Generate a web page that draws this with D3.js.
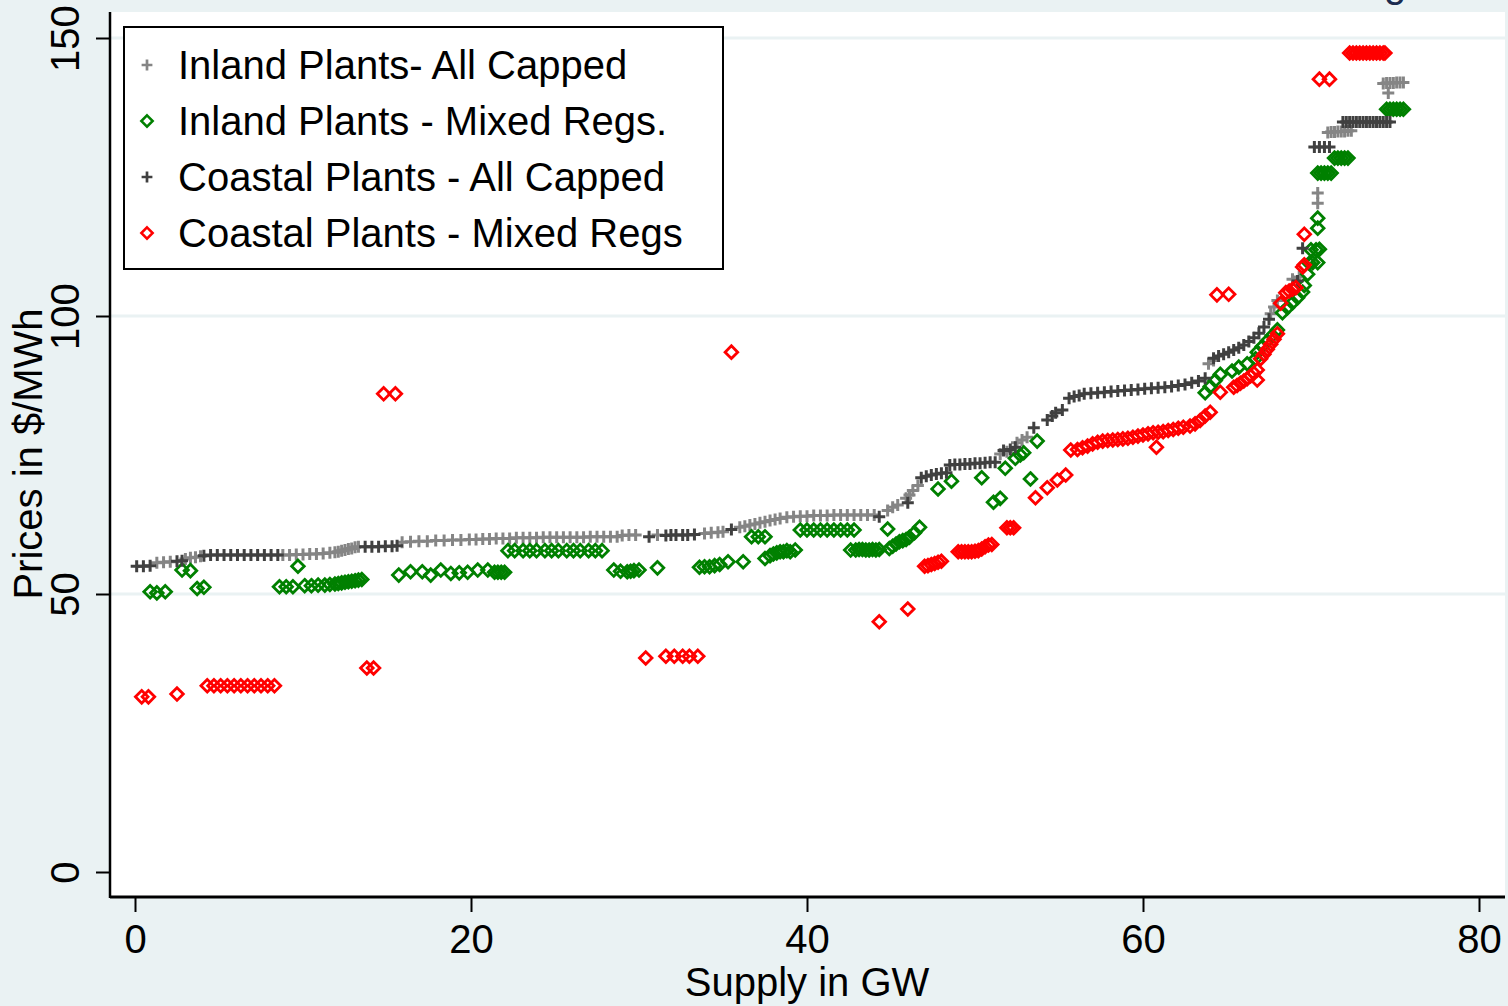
<!DOCTYPE html>
<html>
  <head>
    <meta http-equiv="Content-Type" content="text/html; charset=UTF-8">
    <script type="text/javascript" src="https://cdn.jsdelivr.net/npm/d3@7"></script>
    <style>
      body { margin: 0; background: #eaf2f3; }
      #chart { width: 1508px; height: 1006px; }
      text { font-family: "Liberation Sans", Arial, Helvetica, sans-serif; }
    </style>
  </head>
  <body>
    <div id="chart"></div>
    <script>
// ---- data (GW, $/MWh) ----
var xTicks = [0, 20, 40, 60, 80];
var yTicks = [0, 50, 100, 150];
var seriesNames = ["Inland Plants- All Capped", "Inland Plants - Mixed Regs.",
                   "Coastal Plants - All Capped", "Coastal Plants - Mixed Regs"];

var inlandCapped = [
  [1.3,55.6],[1.7,55.7],[2.1,55.8],[3.0,56.3],[3.3,56.5],[3.6,56.6],[3.9,56.8],
  [8.8,57.0],[9.2,57.0],[9.6,57.1],[10.0,57.1],[10.4,57.2],[10.8,57.2],[11.2,57.3],[11.6,57.4],
  [11.9,57.5],[12.1,57.6],[12.3,57.8],[12.5,57.9],[12.7,58.1],[12.9,58.2],[13.1,58.4],[13.3,58.5],
  [15.9,59.3],[16.4,59.4],[16.9,59.5],[17.4,59.5],[17.9,59.6],[18.4,59.6],[18.9,59.7],[19.4,59.7],
  [19.9,59.8],[20.3,59.8],[20.7,59.9],[21.1,59.9],[21.5,60.0],[21.9,60.0],[22.3,60.0],[22.7,60.1],
  [23.1,60.1],[23.5,60.1],[23.9,60.1],[24.3,60.2],[24.7,60.2],[25.1,60.2],[25.5,60.2],[25.9,60.2],
  [26.3,60.2],[26.7,60.2],[27.1,60.3],[27.5,60.3],[27.9,60.3],[28.3,60.3],[28.7,60.3],
  [29.0,60.5],[29.4,60.6],[29.8,60.6],[31.1,60.6],
  [33.9,60.9],[34.3,61.0],[34.7,61.1],[35.0,61.2],
  [36.0,62.0],[36.3,62.2],[36.6,62.4],[36.9,62.6],[37.2,62.8],[37.5,63.0],[37.8,63.2],[38.1,63.4],
  [38.4,63.6],[38.8,63.8],[39.2,63.9],[39.6,64.0],[40.0,64.0],[40.4,64.1],[40.8,64.1],[41.2,64.1],
  [41.6,64.2],[42.0,64.2],[42.4,64.2],[42.8,64.2],[43.2,64.2],[43.6,64.2],[44.0,64.2],
  [44.8,65.0],[45.1,65.6],[45.4,66.0],[45.9,67.2],[46.1,67.8],[46.3,68.6],[46.6,69.5],
  [51.5,75.2],[51.9,75.6],[52.5,77.2],[52.8,77.7],[53.1,78.2],
  [63.9,91.4],[64.2,92.0],[67.6,100.4],[67.8,101.6],[68.0,102.8],[68.9,106.6],[69.3,107.0],
  [70.4,120.3],[70.4,122.1],
  [71.0,133.0],[71.2,133.1],[71.4,133.1],[71.6,133.2],[71.8,133.2],[72.0,133.2],[72.2,133.3],[72.4,133.3],
  [74.6,140.1],[74.3,141.8],[74.5,141.9],[74.7,141.9],[74.9,141.9],[75.1,142.0],[75.3,142.0],[75.5,142.0]
];

var inlandMixed = [
  [0.9,50.4],[1.3,50.2],[1.8,50.4],[2.8,54.3],[3.3,54.2],[3.7,51.0],[4.1,51.2],
  [8.6,51.3],[9.0,51.3],[9.4,51.3],[9.7,55.0],
  [10.1,51.5],[10.5,51.5],[10.9,51.6],[11.3,51.6],[11.6,51.7],[11.9,51.8],[12.1,51.9],[12.3,52.0],
  [12.5,52.1],[12.7,52.2],[12.9,52.3],[13.1,52.4],[13.3,52.5],[13.5,52.6],
  [15.7,53.4],[16.4,54.0],[17.1,54.0],[17.6,53.4],[18.2,54.3],[18.8,53.7],[19.3,53.8],[19.8,53.9],
  [20.4,54.3],[21.0,54.3],[21.4,53.9],[21.6,53.9],[21.8,53.9],[22.0,53.9],
  [22.2,57.8],[22.6,57.8],[23.1,57.8],[23.5,57.8],[23.9,57.8],[24.4,57.8],[24.8,57.8],[25.2,57.8],
  [25.7,57.8],[26.1,57.8],[26.5,57.8],[27.0,57.8],[27.4,57.8],[27.8,57.8],
  [28.5,54.3],[28.9,54.1],[29.3,54.0],[29.5,54.1],[29.7,54.2],[30.0,54.3],[31.1,54.7],
  [33.6,54.8],[33.9,54.9],[34.2,54.9],[34.5,55.1],[34.8,55.3],[35.3,55.8],[36.2,55.8],
  [36.7,60.3],[37.1,60.3],[37.5,60.3],
  [37.5,56.4],[37.8,56.9],[38.0,57.2],[38.2,57.4],[38.4,57.6],[38.6,57.6],[38.8,57.8],[39.0,57.6],[39.3,57.9],
  [39.6,61.5],[40.0,61.5],[40.4,61.5],[40.8,61.5],[41.2,61.5],[41.6,61.5],[42.0,61.5],[42.4,61.5],[42.8,61.5],
  [42.6,57.9],[42.9,57.9],[43.1,58.0],[43.3,58.0],[43.5,57.9],[43.7,57.9],[43.9,58.0],[44.1,57.9],[44.3,58.0],
  [44.8,61.7],[44.9,58.2],[45.1,58.6],[45.3,59.0],[45.5,59.4],[45.7,59.6],[45.9,59.8],[46.1,60.2],[46.4,61.0],[46.7,62.0],
  [47.8,68.9],[48.6,70.3],[50.4,70.9],[51.1,66.5],[51.5,67.2],[51.8,72.6],[52.4,74.4],[52.7,75.0],[52.9,75.4],
  [53.3,70.7],[53.7,77.5],
  [63.7,86.2],[64.0,87.3],[64.3,88.4],[64.6,89.5],[65.3,90.1],[65.7,90.8],[66.2,91.4],[66.7,92.3],
  [66.8,93.5],[67.1,94.5],[67.4,95.5],[67.7,96.5],[68.0,97.5],[68.3,100.6],[68.6,101.5],[68.9,102.4],
  [69.2,103.3],[69.5,104.3],[69.6,105.5],[69.8,107.5],[69.9,109.5],[70.1,109.6],[70.4,109.6],
  [70.0,111.9],[70.3,111.9],[70.5,112.0],[70.4,115.8],[70.4,117.6],
  [70.4,125.7],[70.6,125.7],[70.8,125.7],[71.0,125.7],[71.2,125.7],
  [71.4,128.4],[71.6,128.4],[71.8,128.4],[72.0,128.4],[72.2,128.4],
  [74.5,137.2],[74.7,137.2],[74.9,137.2],[75.1,137.2],[75.3,137.2],[75.5,137.2]
];

var coastalCapped = [
  [0.1,55.0],[0.5,55.0],[0.9,55.1],[2.5,55.9],[2.8,56.0],
  [4.1,56.9],[4.5,57.0],[4.9,57.0],[5.3,57.0],[5.7,57.0],[6.1,57.0],[6.5,57.0],[6.9,57.0],
  [7.3,57.0],[7.7,57.0],[8.1,57.0],[8.5,57.0],
  [13.7,58.5],[14.1,58.5],[14.5,58.5],[14.9,58.6],[15.3,58.6],[15.6,58.7],
  [30.6,60.3],[31.6,60.5],[31.9,60.6],[32.2,60.6],[32.6,60.6],[32.9,60.6],[33.3,60.7],
  [35.5,61.6],[44.3,63.9],[46.0,66.4],
  [46.8,70.9],[47.1,71.2],[47.4,71.4],[47.7,71.6],[48.0,71.7],[48.3,71.8],
  [48.5,73.2],[48.8,73.3],[49.1,73.3],[49.4,73.4],[49.7,73.4],[50.0,73.5],[50.3,73.5],[50.6,73.6],
  [50.9,73.7],[51.2,73.7],[51.7,75.8],[52.1,76.0],[52.4,76.4],
  [53.5,79.9],[54.3,81.3],[54.6,82.0],[54.8,82.6],[55.2,83.1],
  [55.6,85.2],[55.9,85.5],[56.2,85.7],[56.5,86.0],
  [56.9,86.1],[57.3,86.2],[57.7,86.3],[58.1,86.4],[58.5,86.5],[58.9,86.6],[59.3,86.7],[59.7,86.8],
  [60.1,86.9],[60.5,87.0],[60.9,87.1],[61.3,87.2],[61.7,87.3],[62.1,87.5],[62.5,87.7],[62.9,88.0],
  [63.3,88.3],[63.7,88.8],
  [64.2,92.4],[64.5,92.8],[64.8,93.1],[65.1,93.5],[65.4,93.9],[65.7,94.3],[66.0,94.8],[66.3,95.4],
  [66.6,96.1],[66.9,96.9],[67.2,98.0],[67.5,99.4],[69.2,106.3],[69.5,112.2],
  [70.2,130.4],[70.5,130.4],[70.8,130.4],[71.1,130.4],
  [71.9,134.9],[72.1,134.9],[72.3,134.9],[72.5,134.9],[72.7,134.9],[72.9,134.9],[73.1,134.9],[73.3,134.9],
  [73.5,134.9],[73.7,134.9],[73.9,134.9],[74.1,134.9],[74.3,134.9],[74.5,134.9],[74.7,134.9]
];

var coastalMixed = [
  [0.4,31.5],[0.8,31.5],[2.5,32.0],
  [4.3,33.5],[4.7,33.5],[5.1,33.5],[5.5,33.5],[5.9,33.5],[6.3,33.5],[6.7,33.5],[7.1,33.5],[7.5,33.5],
  [7.9,33.5],[8.3,33.5],
  [13.8,36.7],[14.2,36.7],[14.8,86.0],[15.5,86.0],
  [30.4,38.5],[31.6,38.8],[32.1,38.8],[32.6,38.8],[33.0,38.8],[33.5,38.8],
  [35.5,93.5],[44.3,45.0],[46.0,47.3],
  [47.0,55.0],[47.2,55.1],[47.4,55.3],[47.6,55.5],[47.8,55.7],[48.0,55.9],
  [49.0,57.6],[49.2,57.6],[49.4,57.6],[49.6,57.6],[49.8,57.6],[50.0,57.7],[50.2,57.8],[50.4,58.1],
  [50.6,58.5],[50.8,58.8],[51.0,58.9],
  [51.9,61.9],[52.1,61.9],[52.3,61.9],
  [53.6,67.3],[54.3,69.1],[54.9,70.5],[55.4,71.4],
  [55.7,75.9],[56.1,76.0],[56.4,76.3],[56.7,76.6],[57.0,77.0],[57.3,77.3],[57.6,77.5],[57.9,77.6],
  [58.2,77.7],[58.5,77.8],[58.8,77.9],[59.1,78.0],[59.4,78.2],[59.7,78.4],[60.0,78.6],[60.3,78.8],
  [60.8,76.4],
  [60.6,79.0],[60.9,79.1],[61.2,79.2],[61.5,79.4],[61.8,79.6],[62.1,79.8],[62.4,80.0],
  [62.8,80.2],[63.1,80.6],[63.4,81.2],[63.7,82.0],[64.0,82.7],
  [64.4,103.8],[65.1,103.9],[64.6,86.3],
  [65.4,87.2],[65.6,87.5],[65.8,87.9],[66.0,88.3],[66.2,88.7],[66.4,89.2],[66.6,89.7],[66.8,90.3],
  [66.8,88.5],
  [67.0,92.3],[67.2,93.1],[67.4,94.0],[67.6,94.9],[67.8,95.8],[68.0,96.8],[68.2,102.3],
  [68.5,104.2],[68.7,104.5],[68.9,104.8],[69.1,105.1],[69.5,108.8],[69.6,109.2],[69.6,114.7],
  [70.5,142.6],[71.1,142.6],
  [72.3,147.3],[72.5,147.3],[72.7,147.3],[72.9,147.3],[73.1,147.3],[73.3,147.3],[73.5,147.3],
  [73.7,147.3],[73.9,147.3],[74.1,147.3],[74.3,147.3],[74.4,147.3]
];

// ---- layout ----
var width = 1508, height = 1006;
var plot = { left: 110, right: 1505, top: 12, bottom: 897 };
var fontSize = 40;

var svg = d3.select("#chart").append("svg")
    .attr("width", width)
    .attr("height", height);

svg.append("rect").attr("width", width).attr("height", height).attr("fill", "#eaf2f3");
svg.append("rect")
    .attr("x", plot.left).attr("y", plot.top)
    .attr("width", plot.right - plot.left).attr("height", plot.bottom - plot.top)
    .attr("fill", "#ffffff");

var x = d3.scaleLinear().domain([0, 80]).range([135, 1479]);
var y = d3.scaleLinear().domain([0, 150]).range([872, 38]);

// grid lines (not at 0)
svg.append("g").selectAll("line")
    .data(yTicks.filter(function (d) { return d > 0; }))
  .enter().append("line")
    .attr("x1", plot.left).attr("x2", plot.right)
    .attr("y1", function (d) { return y(d); })
    .attr("y2", function (d) { return y(d); })
    .attr("stroke", "#eaf2f3")
    .attr("stroke-width", 3);

// axes
var yAxis = svg.append("g")
    .attr("transform", "translate(" + plot.left + ",0)")
    .call(d3.axisLeft(y).tickValues(yTicks).tickSize(14).tickFormat(d3.format("d")));
yAxis.select(".domain").remove();
yAxis.selectAll(".tick line").attr("stroke", "#000").attr("stroke-width", 2);
yAxis.selectAll(".tick text")
    .attr("x", null).attr("dy", null)
    .attr("transform", "translate(-31,0) rotate(-90)")
    .attr("text-anchor", "middle")
    .attr("font-size", fontSize)
    .attr("font-family", "Liberation Sans, Arial, sans-serif")
    .attr("fill", "#000");

var xAxis = svg.append("g")
    .attr("transform", "translate(0," + plot.bottom + ")")
    .call(d3.axisBottom(x).tickValues(xTicks).tickSize(15).tickFormat(d3.format("d")));
xAxis.select(".domain").remove();
xAxis.selectAll(".tick line").attr("stroke", "#000").attr("stroke-width", 2);
xAxis.selectAll(".tick text")
    .attr("y", 56).attr("dy", null)
    .attr("font-size", fontSize)
    .attr("font-family", "Liberation Sans, Arial, sans-serif")
    .attr("fill", "#000");

svg.append("line")
    .attr("x1", plot.left).attr("x2", plot.left)
    .attr("y1", plot.top).attr("y2", plot.bottom + 1)
    .attr("stroke", "#000").attr("stroke-width", 2.5);
svg.append("line")
    .attr("x1", plot.left).attr("x2", plot.right)
    .attr("y1", plot.bottom).attr("y2", plot.bottom)
    .attr("stroke", "#000").attr("stroke-width", 3);

// axis titles
svg.append("text")
    .attr("x", 807).attr("y", 996)
    .attr("text-anchor", "middle")
    .attr("font-size", fontSize)
    .text("Supply in GW");
svg.append("text")
    .attr("transform", "translate(42,454) rotate(-90)")
    .attr("text-anchor", "middle")
    .attr("font-size", fontSize)
    .text("Prices in $/MWh");

// cut-off title fragment at the very top, as in the original
svg.append("text")
    .attr("x", 1395).attr("y", -3)
    .attr("text-anchor", "middle")
    .attr("font-size", 40)
    .attr("fill", "#1a2b4f")
    .text("g");

// markers
var plusPath = "M-6,0H6M0,-6V6";
var diamondPath = "M0,-6.3L6.3,0L0,6.3L-6.3,0Z";

var series = [
  { data: inlandCapped, color: "#858585", path: plusPath, width: 3 },
  { data: inlandMixed, color: "#008000", path: diamondPath, width: 2.8 },
  { data: coastalCapped, color: "#404040", path: plusPath, width: 3 },
  { data: coastalMixed, color: "#ff0000", path: diamondPath, width: 2.8 }
];

var plotG = svg.append("g");
series.forEach(function (s) {
  plotG.append("g").selectAll("path")
      .data(s.data)
    .enter().append("path")
      .attr("d", s.path)
      .attr("transform", function (d) { return "translate(" + x(d[0]) + "," + y(d[1]) + ")"; })
      .attr("fill", "none")
      .attr("stroke", s.color)
      .attr("stroke-width", s.width);
});

// legend
var legend = svg.append("g");
legend.append("rect")
    .attr("x", 124).attr("y", 27)
    .attr("width", 599).attr("height", 242)
    .attr("fill", "#fff")
    .attr("stroke", "#000")
    .attr("stroke-width", 2);
var rows = legend.selectAll(".row")
    .data(seriesNames)
  .enter().append("g")
    .attr("class", "row")
    .attr("transform", function (d, i) { return "translate(0," + (65 + i * 56) + ")"; });
rows.append("path")
    .attr("d", function (d, i) { return series[i].path; })
    .attr("transform", "translate(147,0) scale(0.9)")
    .attr("fill", "none")
    .attr("stroke", function (d, i) { return series[i].color; })
    .attr("stroke-width", function (d, i) { return series[i].width; });
rows.append("text")
    .attr("x", 178).attr("y", 14)
    .attr("font-size", fontSize)
    .text(function (d) { return d; });
    </script>
</body></html>
